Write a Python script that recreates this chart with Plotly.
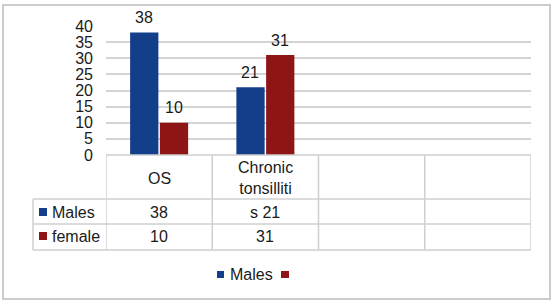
import plotly.graph_objects as go

# ---- data ----
categories = ["OS", "Chronic<br>tonsilliti"]
series_names = ["Males", "female"]
males = [38, 21]
female = [10, 31]
# text quirks of the original data table (wrapped word spilled into cell)
males_cell_prefix = ["", "s "]
female_cell_prefix = ["", ""]
y_tick_vals = list(range(0, 41, 5))
n_columns = 4

colors = {"Males": "#133E8A", "female": "#8E1515"}
FONT = "Liberation Sans, Arial, Helvetica, sans-serif"
TXT = "#1a1a1a"
LINE = "#CFCFCF"
FS = 16

W, H = 555, 305
ML, MR, MT, MB = 106, 24, 26, 150


def py(p):
    return (H - MB - p) / (H - MT - MB)


def px(p):
    return (p - ML) / (W - ML - MR)


fig = go.Figure()
for name, vals in zip(series_names, [males, female]):
    fig.add_trace(go.Bar(x=categories, y=vals, name=name,
                         marker=dict(color=colors[name], line=dict(width=0)),
                         showlegend=False, hoverinfo="skip"))

shapes = []
annotations = []

# data labels above bars
for k, (name, vals) in enumerate(zip(series_names, [males, female])):
    for c, v in zip(categories, vals):
        annotations.append(dict(x=c, y=v, xref="x", yref="y", text=str(v),
                                showarrow=False, xshift=(-15 if k == 0 else 15),
                                yshift=15, yanchor="middle",
                                font=dict(family=FONT, size=FS, color=TXT)))

# outer border
shapes.append(dict(type="rect", xref="paper", yref="paper",
                   x0=px(3), x1=px(550), y0=py(5), y1=py(299),
                   line=dict(color="#CCCCCC", width=2)))

# data table lines
row_top, row1, row2, row_bot = 155, 199, 224, 250
label_left = 33
shapes.append(dict(type="line", xref="x", yref="paper", x0=-0.5, x1=n_columns - 0.5,
                   y0=py(row_top), y1=py(row_top), line=dict(color=LINE, width=1.5)))
for yy in [row1, row2, row_bot]:
    shapes.append(dict(type="line", xref="paper", yref="paper", x0=px(label_left),
                       x1=px(W - MR), y0=py(yy), y1=py(yy),
                       line=dict(color=LINE, width=1.5)))
shapes.append(dict(type="line", xref="paper", yref="paper", x0=px(label_left),
                   x1=px(label_left), y0=py(row1), y1=py(row_bot),
                   line=dict(color=LINE, width=1.5)))
for i in range(n_columns + 1):
    shapes.append(dict(type="line", xref="x", yref="paper", x0=i - 0.5, x1=i - 0.5,
                       y0=py(row_top), y1=py(row_bot), line=dict(color=LINE, width=1.5)))

# header labels
for c in categories:
    annotations.append(dict(x=c, xref="x", y=py(178), yref="paper", text=c,
                            showarrow=False, yanchor="middle",
                            font=dict(family=FONT, size=FS, color=TXT)))

# row labels + cells
rows = [(series_names[0], males, males_cell_prefix, 212),
        (series_names[1], female, female_cell_prefix, 236)]
for name, vals, pref, yc in rows:
    shapes.append(dict(type="rect", xref="paper", yref="paper",
                       x0=px(39), x1=px(47), y0=py(yc - 4), y1=py(yc + 4),
                       fillcolor=colors[name], line=dict(width=0)))
    annotations.append(dict(x=px(50), xref="paper", y=py(yc), yref="paper", text=name,
                            showarrow=False, xanchor="left", yanchor="middle",
                            font=dict(family=FONT, size=FS, color=TXT)))
    for c, v, p in zip(categories, vals, pref):
        annotations.append(dict(x=c, xref="x", y=py(yc), yref="paper", text=p + str(v),
                                showarrow=False, yanchor="middle",
                                font=dict(family=FONT, size=FS, color=TXT)))

# legend (bottom)
leg_y = 274.5
shapes.append(dict(type="rect", xref="paper", yref="paper",
                   x0=px(217), x1=px(224), y0=py(leg_y - 3.5), y1=py(leg_y + 3.5),
                   fillcolor=colors["Males"], line=dict(width=0)))
annotations.append(dict(x=px(228), xref="paper", y=py(leg_y), yref="paper",
                        text=series_names[0], showarrow=False, xanchor="left",
                        yanchor="middle", font=dict(family=FONT, size=FS, color=TXT)))
shapes.append(dict(type="rect", xref="paper", yref="paper",
                   x0=px(281), x1=px(289), y0=py(leg_y - 3.5), y1=py(leg_y + 3.5),
                   fillcolor=colors["female"], line=dict(width=0)))

fig.update_layout(
    width=W, height=H,
    margin=dict(l=ML, r=MR, t=MT, b=MB, pad=0),
    paper_bgcolor="white", plot_bgcolor="white",
    barmode="group", bargap=0.44, bargroupgap=0.05,
    showlegend=False,
    shapes=shapes, annotations=annotations,
    xaxis=dict(type="category", categoryorder="array", categoryarray=categories,
               range=[-0.5, n_columns - 0.5], showticklabels=False, showgrid=False,
               zeroline=False, showline=False, fixedrange=True),
    yaxis=dict(range=[0, 40], tickvals=y_tick_vals, showgrid=True,
               gridcolor="#D4D4D4", gridwidth=1.5, zeroline=False, showline=False,
               ticks="", ticklabelstandoff=12,
               tickfont=dict(family=FONT, size=FS, color=TXT), fixedrange=True),
    font=dict(family=FONT, size=FS, color=TXT),
)

fig.write_html("out.html", config={"displayModeBar": False},
               post_script="document.body.style.margin='0';document.body.style.overflow='hidden';")
